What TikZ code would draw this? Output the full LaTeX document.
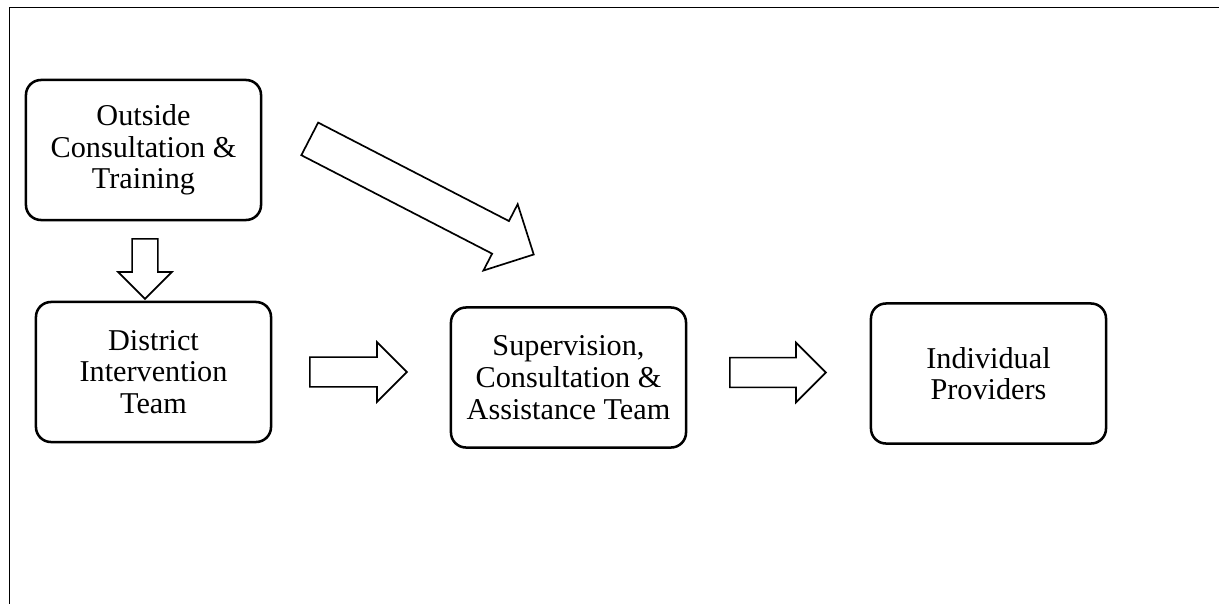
\documentclass[tikz,border=0pt]{standalone}
\usepackage{fontspec}
\setmainfont{Liberation Serif}
\usetikzlibrary{shapes.arrows}

\begin{document}
\begin{tikzpicture}[
x=0.025cm, y=-0.025cm,
box/.style={draw, rectangle, rounded corners=0.375cm, line width=1.8pt, minimum width=5.875cm, minimum height=3.5cm, align=center, font=\fontsize{21.5}{22.5}\selectfont},
blockarrow/.style={draw, single arrow, line width=1.2pt, inner xsep=0pt, single arrow tip angle=90, anchor=tail} ]

\useasboundingbox (0,0) rectangle (1219,604);
\draw[line width=1.3pt] (9.5,604) -- (9.5,7.5) -- (1219,7.5);

\node[box] (outside) at (143.5,150) {Outside\\Consultation \&\\Training};
\node[box] (district) at (153.5,372) {District\\Intervention\\Team};
\node[box] (superv) at (568.5,377.5) {Supervision,\\Consultation \&\\Assistance Team};
\node[box] (indiv) at (988.5,373.5) {Individual\\Providers};

\node[blockarrow, rotate=-90, minimum height=1.5cm, inner ysep=0.3cm, single arrow head extend=0.35cm] (arrdown) at (145,238) {};
\node[blockarrow, rotate=-27.3, minimum height=6.3cm, inner ysep=0.4375cm, single arrow head extend=0.475cm] (arrdiag) at (309,138.5) {};
\node[blockarrow, minimum height=2.425cm, inner ysep=0.35cm, single arrow head extend=0.375cm] (arrone) at (309,372) {};
\node[blockarrow, minimum height=2.4cm, inner ysep=0.35cm, single arrow head extend=0.375cm] (arrtwo) at (729,372.5) {};

\end{tikzpicture}
\end{document}
